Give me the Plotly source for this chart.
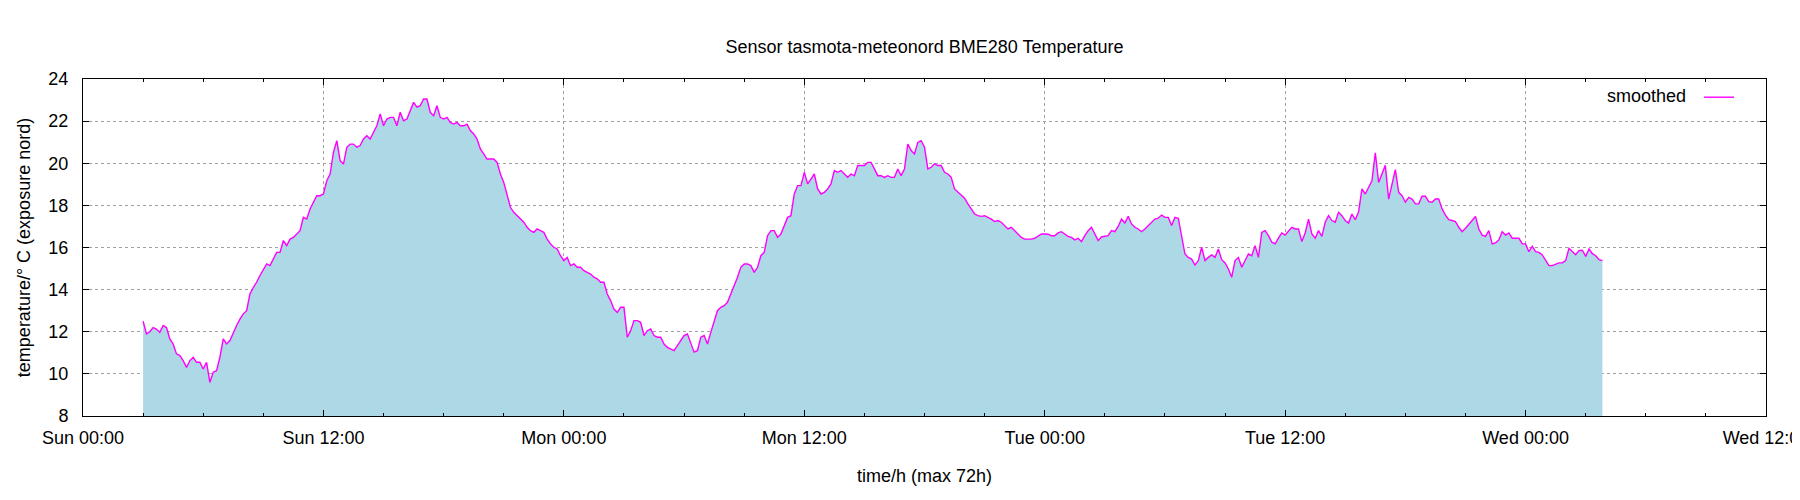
import pandas as pd
import plotly.graph_objects as go

start_time = "2024-03-03 03:00"  # Sonntag

temp_sun_0300 = [
    12.5, 11.9, 12.0, 12.2, 12.13, 11.97, 12.3, 12.2, 11.66, 11.42,
    10.95, 10.87, 10.63, 10.3, 10.63, 10.79, 10.55, 10.55, 10.23, 10.55,
    9.6, 10.08, 10.15, 10.79, 11.66, 11.42, 11.58, 11.97, 12.3, 12.6,
    12.85, 13.0, 13.8, 14.1, 14.35, 14.67, 14.98, 15.22, 15.14, 15.45,
    15.77, 15.77, 16.33, 16.09, 16.4, 16.48, 16.64, 16.8, 17.43, 17.35,
    17.83, 18.15, 18.46, 18.46, 18.54, 19.17, 19.49, 20.52, 21.07, 20.12,
    19.96, 20.76, 20.91, 20.91, 20.76, 20.84, 21.15, 21.31, 21.15, 21.47,
    21.78, 22.34,
]
temp_sun_1500 = [
    21.78, 22.1, 22.18, 22.18, 21.78, 22.42, 22.02, 22.1, 22.5, 22.89,
    22.66, 22.73, 23.05, 23.05, 22.42, 22.26, 22.73, 22.18, 22.1, 22.18,
    21.94, 21.86, 21.94, 21.78, 21.78, 21.86, 21.55, 21.39, 21.15, 20.68,
    20.44, 20.2, 20.2, 20.2, 20.04, 19.49, 19.09, 18.46, 17.91, 17.67,
    17.51, 17.35, 17.2, 16.96, 16.8, 16.72, 16.88, 16.8, 16.72, 16.4,
    16.17, 16.01, 15.93, 15.61, 15.38, 15.53, 15.14, 15.22, 15.06, 15.06,
    14.9, 14.82, 14.74, 14.59, 14.51, 14.35, 14.35, 13.79, 13.48, 13.08,
    12.92, 13.16, 13.16,
]
temp_mon_0310 = [
    11.74, 12.05, 12.53, 12.53, 12.45, 11.82, 12.05, 12.13, 11.82, 11.74,
    11.74, 11.42, 11.26, 11.18, 11.1, 11.34, 11.58, 11.82, 11.9, 11.5,
    11.03, 11.1, 11.74, 11.82, 11.42, 11.97, 12.53, 13.0, 13.16, 13.24,
    13.4, 13.79, 14.19, 14.59, 15.06, 15.22, 15.22, 15.14, 14.82, 15.06,
    15.61, 15.77, 16.56, 16.8, 16.8, 16.48, 16.64, 17.04, 17.43, 17.51,
    18.54, 18.94, 18.94, 19.57, 19.02, 19.25, 19.49, 18.78, 18.54, 18.62,
    18.78, 19.02, 19.65, 19.57, 19.65, 19.49, 19.33, 19.49, 19.41, 19.89,
    19.89, 19.89, 20.04,
]
temp_mon_1520 = [
    20.04, 19.73, 19.41, 19.41, 19.33, 19.41, 19.33, 19.33, 19.73, 19.41,
    19.73, 20.91, 20.6, 20.44, 20.99, 21.07, 20.76, 19.73, 19.81, 19.97,
    19.89, 19.89, 19.57, 19.49, 19.33, 18.78, 18.62, 18.46, 18.34, 18.07,
    17.83, 17.59, 17.51, 17.48, 17.51, 17.43, 17.35, 17.23, 17.28, 17.2,
    17.04, 16.88, 16.96, 16.8, 16.64, 16.48, 16.4, 16.4, 16.4, 16.44,
    16.56, 16.64, 16.64, 16.63, 16.56, 16.56, 16.69, 16.75, 16.64, 16.53,
    16.48, 16.36, 16.44, 16.28, 16.56, 16.8, 16.96, 16.64, 16.33, 16.5,
    16.53, 16.56, 16.8, 16.75,
]
temp_tue_0340 = [
    17.0, 17.35, 17.16, 17.48, 17.12, 16.96, 16.88, 16.75, 16.88, 17.04,
    17.2, 17.35, 17.39, 17.54, 17.43, 17.43, 17.04, 17.43, 17.39, 16.48,
    15.69, 15.53, 15.45, 15.17, 15.38, 16.01, 15.38, 15.53, 15.65, 15.53,
    15.93, 15.42, 15.27, 14.98, 14.59, 15.38, 15.53, 15.06, 15.38, 15.69,
    15.61, 16.09, 15.53, 16.72, 16.8, 16.56, 16.25, 16.17, 16.44, 16.69,
    16.59, 16.75, 16.96, 16.88, 16.88, 16.28, 16.69, 17.35, 16.64, 16.44,
    16.8, 16.53, 17.2, 17.51, 17.28, 17.2, 17.67, 17.51, 17.28, 17.16,
    17.59, 17.32, 17.7,
]
temp_tue_1550 = [
    18.78, 18.54, 18.86, 19.17, 20.5, 19.09, 19.49, 19.9, 18.3, 18.94,
    19.7, 18.62, 18.46, 18.15, 18.38, 18.3, 18.07, 18.07, 18.43, 18.43,
    18.18, 18.15, 18.3, 18.3, 17.83, 17.54, 17.32, 17.28, 17.23, 16.96,
    16.75, 16.91, 17.12, 17.28, 17.48, 16.88, 16.59, 16.53, 16.8, 16.17,
    16.22, 16.36, 16.75, 16.59, 16.69, 16.44, 16.44, 16.44, 16.18, 16.17,
    15.8, 16.06, 15.8, 15.77, 15.65, 15.42, 15.14, 15.14, 15.2, 15.27,
    15.27, 15.38, 15.96, 15.8, 15.66, 15.85, 15.87, 15.58, 15.93, 15.71,
    15.61, 15.42, 15.38,
]

temps = (temp_sun_0300 + temp_sun_1500 + temp_mon_0310
         + temp_mon_1520 + temp_tue_0340 + temp_tue_1550)
df = pd.DataFrame({
    'time': pd.date_range(start_time, periods=len(temps), freq='10min'),
    'temp': temps,
})

x_start = pd.Timestamp("2024-03-03 00:00")
x_end = pd.Timestamp("2024-03-06 12:00")
hour_ms = 3600 * 1000

fig = go.Figure()

# Fläche unter der Kurve (bis zur unteren Achse)
fig.add_trace(go.Scatter(
    x=df['time'], y=df['temp'],
    mode='lines', line=dict(width=0),
    fill='tozeroy', fillcolor='#add8e6',
    showlegend=False, hoverinfo='skip',
))

# geglättete Kurve
fig.add_trace(go.Scatter(
    x=df['time'], y=df['temp'],
    mode='lines', line=dict(color='#ff00ff', width=1.4),
    name='',
))

# die Seite hat 8px Rand (body margin), daher etwas kleiner
fig.update_layout(
    width=1784, height=484,
    margin=dict(l=75, r=26, t=71, b=76),
    plot_bgcolor='white', paper_bgcolor='white',
    font=dict(family='Liberation Sans, Arial, sans-serif', size=18, color='black'),
    title=dict(
        text='Sensor tasmota-meteonord BME280 Temperature',
        x=0.5, xref='paper', xanchor='center',
        y=0.921, yref='container', yanchor='middle',
        font=dict(size=18),
    ),
    legend=dict(
        title=dict(text='smoothed\u00a0', side='left', font=dict(size=18)),
        font=dict(size=18),
        x=0.9875, xanchor='right', y=1.0, yanchor='top',
        bgcolor='rgba(0,0,0,0)',
    ),
)

fig.update_xaxes(
    type='date', automargin=False,
    range=[x_start, x_end],
    tick0=x_start, dtick=12 * hour_ms,
    tickformat='%a %H:%M',
    ticks='inside', ticklen=6, tickcolor='black',
    ticklabelstandoff=5, ticklabeloverflow='allow',
    tickfont=dict(size=18),
    minor=dict(dtick=3 * hour_ms, ticks='inside', ticklen=3, tickcolor='black', showgrid=False),
    showline=True, linecolor='black', linewidth=1, mirror='allticks',
    showgrid=True, gridcolor='#a0a0a0', griddash='dot', gridwidth=1,
    zeroline=False,
    title=dict(text='time/h (max 72h)', standoff=22, font=dict(size=18)),
)

fig.update_yaxes(
    automargin=False,
    range=[8, 24], dtick=2,
    ticks='inside', ticklen=6, tickcolor='black',
    ticklabelstandoff=10,
    tickfont=dict(size=18),
    showline=True, linecolor='black', linewidth=1, mirror='allticks',
    showgrid=True, gridcolor='#a0a0a0', griddash='dot', gridwidth=1,
    zeroline=False,
    title=dict(text='temperature/° C (exposure nord)', standoff=13, font=dict(size=18)),
)

fig.write_html("out.html")
